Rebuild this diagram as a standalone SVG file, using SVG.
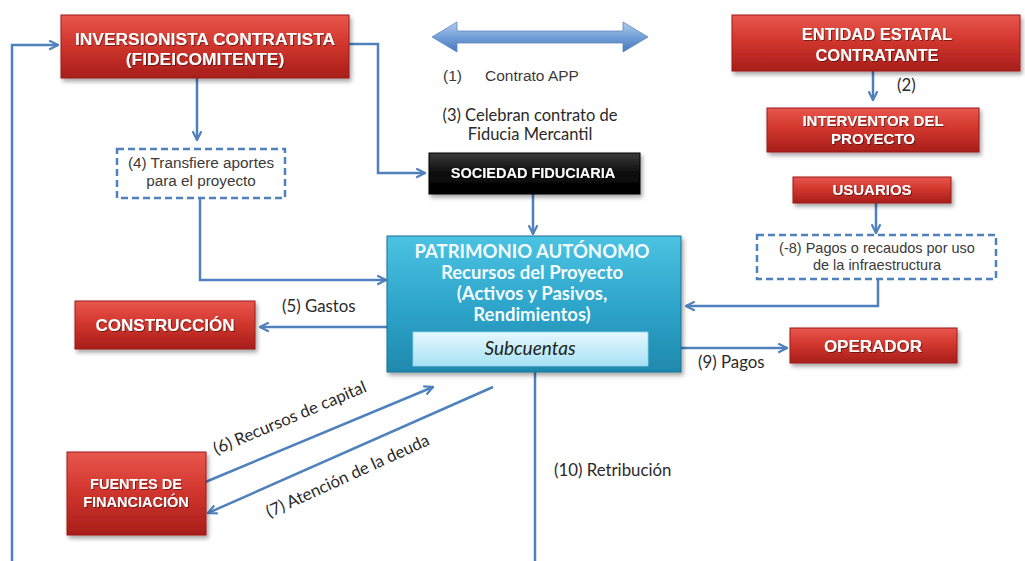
<svg xmlns="http://www.w3.org/2000/svg" width="1025" height="561" viewBox="0 0 1025 561">
<defs>
<linearGradient id="gRed" x1="0" y1="0" x2="0" y2="1">
<stop offset="0" stop-color="#e8574d"/>
<stop offset="0.45" stop-color="#d2372e"/>
<stop offset="1" stop-color="#a81e1a"/>
</linearGradient>
<linearGradient id="gBlack" x1="0" y1="0" x2="0" y2="1">
<stop offset="0" stop-color="#3a3a3a"/>
<stop offset="0.5" stop-color="#0c0c0c"/>
<stop offset="1" stop-color="#000"/>
</linearGradient>
<linearGradient id="gTeal" x1="0" y1="0" x2="0" y2="1">
<stop offset="0" stop-color="#4cc3e2"/>
<stop offset="0.5" stop-color="#2ea6cb"/>
<stop offset="1" stop-color="#1f89ad"/>
</linearGradient>
<linearGradient id="gSub" x1="0" y1="0" x2="0" y2="1">
<stop offset="0" stop-color="#e6f7fd"/>
<stop offset="1" stop-color="#a7e2f5"/>
</linearGradient>
<linearGradient id="gArrow" x1="0" y1="0" x2="0" y2="1">
<stop offset="0" stop-color="#b3cdee"/>
<stop offset="0.5" stop-color="#739fd8"/>
<stop offset="1" stop-color="#4a78b9"/>
</linearGradient>
<filter id="sh" x="-10%" y="-20%" width="125%" height="150%">
<feDropShadow dx="2" dy="3" stdDeviation="2" flood-color="#000" flood-opacity="0.35"/>
</filter>
<filter id="tsh" x="-5%" y="-30%" width="110%" height="160%">
<feDropShadow dx="1" dy="1" stdDeviation="0.6" flood-color="#000" flood-opacity="0.45"/>
</filter>
<marker id="ah" viewBox="0 0 10 10" refX="9" refY="5" markerWidth="11" markerHeight="11" markerUnits="userSpaceOnUse" orient="auto">
<path d="M1,1 L9,5 L1,9" fill="none" stroke="#4f81bd" stroke-width="2"/>
</marker>
<style>
.red{fill:url(#gRed);stroke:#9c1c18;stroke-width:1;filter:url(#sh)}
.bt{font-family:"Liberation Sans",Arial,sans-serif;font-weight:bold;fill:#fff;text-anchor:middle;filter:url(#tsh)}
.c{fill:none;stroke:#4f81bd;stroke-width:2.5}
.ca{fill:none;stroke:#4f81bd;stroke-width:2.5;marker-end:url(#ah)}
.dash{fill:#fff;stroke:#4f81bd;stroke-width:2.5;stroke-dasharray:7 4}
.ar{font-family:"Liberation Sans",Arial,sans-serif;fill:#3a3a3a}
.lb{font-family:Lato,"Open Sans",sans-serif;fill:#2a2a2a}
.pt{font-family:Lato,"Open Sans",sans-serif;font-weight:bold;font-size:18.5px;fill:#f4fbff;text-anchor:middle}
</style>
</defs>
<rect width="1025" height="561" fill="#fff"/>

<g id="connectors">
<polyline class="ca" points="12,561 12,45 58,45"/>
<polyline class="ca" points="349,44 378,44 378,173 425,173"/>
<line class="ca" x1="197" y1="78" x2="197" y2="140"/>
<polyline class="ca" points="200,198 200,280 386,280"/>
<line class="ca" x1="533" y1="194" x2="533" y2="234"/>
<line class="ca" x1="873" y1="71" x2="873" y2="100"/>
<line class="ca" x1="876" y1="203" x2="876" y2="233"/>
<polyline class="ca" points="878,279 878,306 686,306"/>
<line class="ca" x1="387" y1="327" x2="260" y2="327"/>
<line class="ca" x1="681" y1="348" x2="787" y2="348"/>
<line class="ca" x1="203" y1="483" x2="433" y2="387"/>
<line class="ca" x1="493" y1="387" x2="208" y2="513"/>
<line class="c" x1="535" y1="372" x2="535" y2="561"/>
<polygon points="432,37 457,22 457,31 623,31 623,22 648,37 623,52 623,43 457,43 457,52" fill="url(#gArrow)" stroke="#5a86c2" stroke-width="0.8"/>
</g>

<g id="labels">
<text class="ar" x="443" y="81" font-size="15.5">(1)</text>
<text class="ar" x="485" y="81" font-size="15.5">Contrato APP</text>
<text class="lb" x="530" y="121" font-size="16.5" text-anchor="middle">(3) Celebran contrato de</text>
<text class="lb" x="530" y="140" font-size="16.5" text-anchor="middle">Fiducia Mercantil</text>
<text class="lb" x="897" y="91" font-size="16.8">(2)</text>
<text class="lb" x="282" y="312" font-size="16.8">(5) Gastos</text>
<text class="lb" x="698" y="368" font-size="16.8">(9) Pagos</text>
<text class="lb" x="554" y="476" font-size="16.8">(10) Retribución</text>
<text class="lb" x="292" y="423" font-size="16.8" text-anchor="middle" transform="rotate(-22.8 292 423)">(6) Recursos de capital</text>
<text class="lb" x="350" y="481" font-size="16.8" text-anchor="middle" transform="rotate(-24.5 350 481)">(7) Atención de la deuda</text>
</g>

<g id="inversionista">
<rect class="red" x="61" y="15" width="288" height="63"/>
<text class="bt" x="205" y="45" font-size="17.4">INVERSIONISTA CONTRATISTA</text>
<text class="bt" x="205" y="65" font-size="17.4">(FIDEICOMITENTE)</text>
</g>

<g id="entidad">
<rect class="red" x="732" y="15" width="288" height="56"/>
<text class="bt" x="877" y="40" font-size="16.5">ENTIDAD ESTATAL</text>
<text class="bt" x="877" y="61" font-size="16.5">CONTRATANTE</text>
</g>

<g id="interventor">
<rect class="red" x="767" y="108" width="212" height="44"/>
<text class="bt" x="873" y="126" font-size="15">INTERVENTOR DEL</text>
<text class="bt" x="873" y="144" font-size="15">PROYECTO</text>
</g>

<g id="usuarios">
<rect class="red" x="793" y="177" width="158" height="26"/>
<text class="bt" x="872" y="195" font-size="15">USUARIOS</text>
</g>

<g id="aportes">
<rect class="dash" x="117" y="149" width="168" height="49"/>
<text class="ar" x="201" y="168" font-size="15.3" text-anchor="middle">(4) Transfiere aportes</text>
<text class="ar" x="201" y="186" font-size="15.3" text-anchor="middle">para el proyecto</text>
</g>

<g id="pagos-uso">
<rect class="dash" x="757" y="235" width="239" height="44"/>
<text class="ar" x="877" y="253" font-size="14.5" text-anchor="middle">(-8) Pagos o recaudos por uso</text>
<text class="ar" x="877" y="270" font-size="14.5" text-anchor="middle">de la infraestructura</text>
</g>

<g id="sociedad">
<rect x="429" y="153" width="211" height="41" fill="url(#gBlack)" stroke="#000" filter="url(#sh)"/>
<text class="bt" x="533" y="178" font-size="14.5">SOCIEDAD  FIDUCIARIA</text>
</g>

<g id="patrimonio">
<rect x="387" y="236" width="294" height="136" fill="url(#gTeal)" stroke="#1a7394" stroke-width="1" filter="url(#sh)"/>
<text class="pt" x="532" y="258">PATRIMONIO AUTÓNOMO</text>
<text class="pt" x="532" y="279">Recursos del Proyecto</text>
<text class="pt" x="532" y="300">(Activos y Pasivos,</text>
<text class="pt" x="532" y="321">Rendimientos)</text>
<rect x="413" y="332" width="235" height="34" fill="url(#gSub)" stroke="#8fd3ea" stroke-width="0.8"/>
<text x="530" y="355" font-family="Lato,'Open Sans',sans-serif" font-style="italic" font-size="19" fill="#222" text-anchor="middle">Subcuentas</text>
</g>

<g id="construccion">
<rect class="red" x="75" y="301" width="180" height="48"/>
<text class="bt" x="165" y="331" font-size="17">CONSTRUCCIÓN</text>
</g>

<g id="operador">
<rect class="red" x="790" y="328" width="167" height="35"/>
<text class="bt" x="873" y="352" font-size="17">OPERADOR</text>
</g>

<g id="fuentes">
<rect class="red" x="67" y="452" width="139" height="83"/>
<text class="bt" x="136" y="489" font-size="14.5">FUENTES DE</text>
<text class="bt" x="136" y="507" font-size="14.5">FINANCIACIÓN</text>
</g>
</svg>
